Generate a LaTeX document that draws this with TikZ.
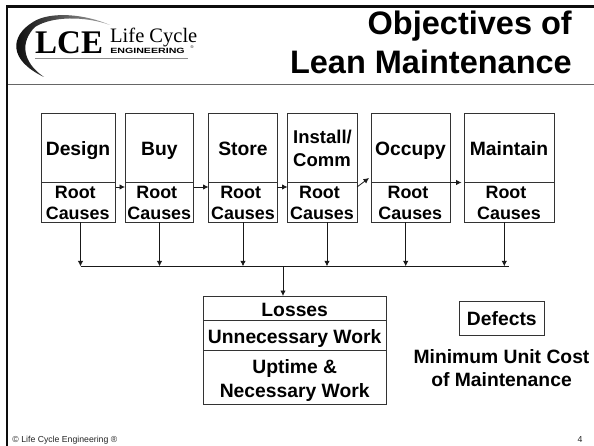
\documentclass[tikz,border=0pt]{standalone}
\usepackage{fontspec}
\setmainfont{Liberation Sans}
\newfontfamily\logoserif{Liberation Serif}
\usetikzlibrary{arrows.meta,calc}
\newcommand{\fs}[1]{\fontsize{#1}{#1}\selectfont}
\tikzset{
  boxline/.style={draw=black!80,line width=0.8pt,fill=white,inner sep=0pt,outer sep=0pt,rectangle},
  lbl/.style={anchor=base,inner sep=0pt,font=\fs{19.3}\bfseries},
  rootlbl/.style={anchor=base,inner sep=0pt,font=\fs{17.9}\bfseries},
  titlelbl/.style={anchor=base east,inner sep=0pt,font=\fs{32.5}\bfseries},
  footlbl/.style={inner sep=0pt,font=\fs{8.7},text=black!85},
  conn/.style={draw=black!90,line width=0.8pt},
  arr/.style={conn,-{Latex[length=5.5pt,width=5.5pt]}},
}
\newcommand{\stage}[8]{% name, x1, x2, label-yes
  \node[boxline,minimum width=#3pt-#2pt,minimum height=69pt] (#1U) at ({(#2+#3)/2},148) {};
  \node[boxline,minimum width=#3pt-#2pt,minimum height=40pt] (#1L) at ({(#2+#3)/2},202.5) {};
  \node[rootlbl] (#1r) at (#4,199) {Root};
  \node[rootlbl] (#1c) at (#5,220) {Causes};
  \coordinate (#1o) at (#6,222.5);
  \coordinate (#1b) at (#6,266.3);
}
\begin{document}
\begin{tikzpicture}[x=1pt,y=-1pt]
\useasboundingbox (0,0) rectangle (594,446);
\fill[white] (0,0) rectangle (594,446);
% frame
\draw[black!60,line width=0.9pt] (8,84) -- (594,84);
\draw[black!95,line width=2.6pt] (594,6.3) -- (7,6.3) -- (7,446);
% logo
\path[left color=black,right color=black!35,draw=none]
  (110,25) .. controls (85,14) and (50,11) .. (33,22)
  .. controls (10,36) and (8,60) .. (44,77)
  .. controls (22,62) and (20,42) .. (35,27)
  .. controls (52,16) and (85,16) .. (110,25) -- cycle;
\draw[black!45,line width=1pt] (35,58.5) -- (188,58.5);
\node[anchor=base west,inner sep=0pt,font=\logoserif\fs{33}\bfseries] (lce) at (35,53.3) {LCE};
\node[anchor=base west,inner sep=0pt,font=\logoserif\fs{20.5}] (lc) at (110,42.7) {Life Cycle};
\node[anchor=base west,inner sep=0pt,font=\fs{7.6}\bfseries,xscale=1.4] (eng) at (110,53.3) {ENGINEERING};
\node[anchor=base west,inner sep=0pt,font=\fs{4}] (engr) at (190.5,49) {®};
% title
\node[titlelbl] (t1) at (572,35) {Objectives of};
\node[titlelbl] (t2) at (572,74) {Lean Maintenance};
% stages
\stage{a}{41}{115.5}{75.3}{77.7}{80.5}{}{}
\stage{b}{125}{193.5}{156.8}{159.3}{159.5}{}{}
\stage{c}{208.5}{277}{240.7}{243}{243}{}{}
\stage{d}{287.5}{357}{319.5}{322}{327}{}{}
\stage{e}{371}{450}{408}{410.3}{405.7}{}{}
\stage{f}{464.7}{554}{506}{509}{504.3}{}{}
\node[lbl] (al) at (78,156) {Design};
\node[lbl] (bl) at (159.3,156) {Buy};
\node[lbl] (cl) at (243,156) {Store};
\node[rootlbl,font=\fs{18.5}\bfseries] (dl1) at (322.5,144) {Install/};
\node[rootlbl,font=\fs{18.5}\bfseries] (dl2) at (322,166.7) {Comm};
\node[lbl] (el) at (410.5,156) {Occupy};
\node[lbl] (fl) at (509,156) {Maintain};
% process arrows
\draw[arr] ([yshift=-4.5pt]aU.south east) -- ([yshift=-4.5pt]bU.south west);
\draw[arr] ([yshift=-4.5pt]bU.south east) -- ([yshift=-4.5pt]cU.south west);
\draw[arr] ([yshift=-4.5pt]cU.south east) -- ([yshift=-4.5pt]dU.south west);
\coordinate (dtip) at (369,178);
\draw[arr] ([yshift=-4.5pt]dU.south east) -- (dtip);
\coordinate (etip) at (461.5,182.5);
\draw[arr] (eU.south east) -- (etip);
% collector
\foreach \n in {a,b,c,d,e,f} \draw[arr] (\n o) -- (\n b);
\coordinate (busL) at (80.5,266.3);
\coordinate (busR) at (509,266.3);
\draw[conn] (busL) -- (busR);
\coordinate (busM) at (283,266.3);
% result box
\node[boxline,minimum width=182.5pt,minimum height=24.7pt] (loss) at (294.75,308.35) {};
\node[boxline,minimum width=182.5pt,minimum height=29.6pt] (unn) at (294.75,335.5) {};
\node[boxline,minimum width=182.5pt,minimum height=54.4pt] (up) at (294.75,377.5) {};
\draw[arr] (busM) -- (busM |- loss.north);
\node[lbl] (l1) at (294.7,316.3) {Losses};
\node[lbl] (l2) at (294.7,343) {Unnecessary Work};
\node[lbl] (l3) at (294.7,373) {Uptime \&};
\node[lbl] (l4) at (294.7,397) {Necessary Work};
% defects
\node[boxline,minimum width=84.3pt,minimum height=34.3pt] (def) at (501.85,318.15) {};
\node[lbl] (deft) at (501.85,325.7) {Defects};
\node[lbl] (m1) at (501.5,363) {Minimum Unit Cost};
\node[lbl] (m2) at (501.5,386) {of Maintenance};
% footer
\node[footlbl,anchor=base west] (foot) at (12.3,442) {© Life Cycle Engineering ®};
\node[footlbl,anchor=base] (num) at (580,442) {4};
\end{tikzpicture}
\end{document}
